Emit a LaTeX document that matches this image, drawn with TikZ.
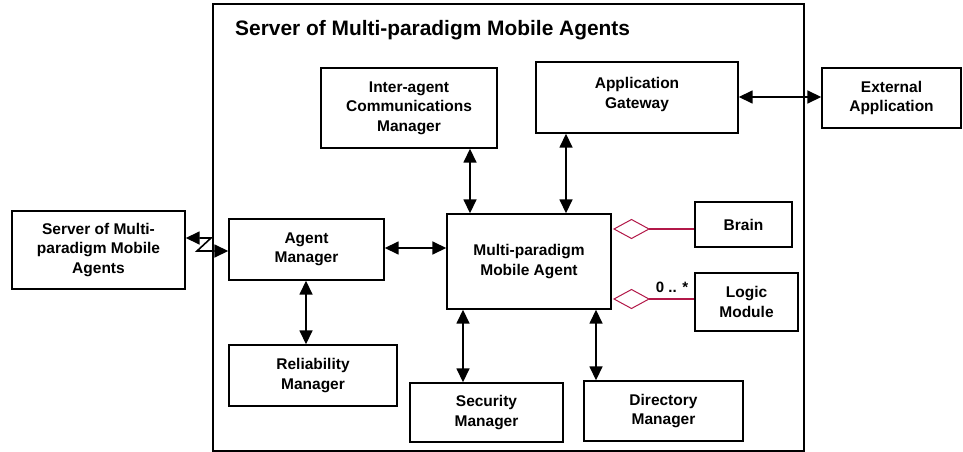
\documentclass[tikz,border=0pt]{standalone}
\usepackage{fontspec}
\setmainfont{Liberation Sans}
\usetikzlibrary{arrows.meta,calc}
\definecolor{aggr}{RGB}{178,24,72}
\tikzset{
  blktext/.style={align=center, font=\bfseries\fontsize{15.5}{19.5}\selectfont},
  blk/.style={draw=black, line width=1.4pt, fill=white, inner sep=0pt, blktext},
  link/.style={line width=1.6pt, {Triangle[length=14pt,width=13pt]}-{Triangle[length=14pt,width=13pt]}},
  frame/.style={draw=black, line width=1.2pt},
  agg/.style={draw=aggr, line width=1.1pt},
  diam/.style={draw=aggr, line width=1pt, fill=white},
}
\begin{document}
\begin{tikzpicture}[x=1pt,y=-1pt]
\useasboundingbox (0,0) rectangle (963,452);
% outer server frame
\draw[frame] (213,4) rectangle (804,451);
\node[anchor=base west, inner sep=0pt, font=\bfseries\fontsize{20.9}{25}\selectfont] (title) at (235,36) {Server of Multi-paradigm Mobile Agents};

% components (centre, size)
\node[blk, minimum width=176pt, minimum height=80pt] (iam) at (409,108) {Inter-agent\\Communications\\Manager};
\node[blk, minimum width=202pt, minimum height=71pt,
      label={[blktext, yshift=3pt]center:Application\\Gateway}] (gw) at (637,97.5) {};
\node[blk, minimum width=139pt, minimum height=60pt] (ext) at (891.5,98) {External\\Application};
\node[blk, minimum width=173pt, minimum height=78pt] (srv) at (98.5,250) {Server of Multi-\\paradigm Mobile\\Agents};
\node[blk, minimum width=155pt, minimum height=61pt] (am) at (306.5,249.5) {Agent\\Manager};
\node[blk, minimum width=164pt, minimum height=95pt] (mma) at (529,261.5) {Multi-paradigm\\Mobile Agent};
\node[blk, minimum width=168pt, minimum height=61pt] (rel) at (313,375.5) {Reliability\\Manager};
\node[blk, minimum width=153pt, minimum height=59pt] (sec) at (486.5,412.5) {Security\\Manager};
\node[blk, minimum width=159pt, minimum height=60pt] (dir) at (663.5,411) {Directory\\Manager};
\node[blk, minimum width=97pt, minimum height=45pt] (brain) at (743.5,224.5) {Brain};
\node[blk, minimum width=103pt, minimum height=58pt] (logic) at (746.5,302) {Logic\\Module};

% bidirectional links
\draw[link] (gw.east |- 0,97) -- (ext.west |- 0,97);
\draw[link] (iam.south -| 470,0) -- (mma.north -| 470,0);
\draw[link] (gw.south -| 566,0) -- (mma.north -| 566,0);
\draw[link] (am.east |- 0,248) -- (mma.west |- 0,248);
\draw[link] (am.south -| 306,0) -- (rel.north -| 306,0);
\draw[link] (mma.south -| 463,0) -- (sec.north -| 463,0);
\draw[link] (mma.south -| 596,0) -- (dir.north -| 596,0);

% migration link across the server boundary
\coordinate (zt) at (211,238);
\coordinate (zb) at (197,251);
\draw[link] (srv.east |- zt) -- (zt) -- (zb) -- (am.west |- zb);

% aggregation of brain and logic modules
\coordinate (d1) at (614,229);
\coordinate (d2) at (614,299);
\draw[diam] (d1) -- ++(17.5,-9.5) -- ++(17.5,9.5) coordinate (d1e) -- ++(-17.5,9.5) -- cycle;
\draw[diam] (d2) -- ++(17.5,-9.5) -- ++(17.5,9.5) coordinate (d2e) -- ++(-17.5,9.5) -- cycle;
\draw[agg] (d1e) -- (brain.west |- d1e);
\draw[agg] (d2e) -- (logic.west |- d2e);
\node[font=\bfseries\fontsize{15}{18}\selectfont] (mult) at (672,287) {0 .. *};
\end{tikzpicture}
\end{document}
